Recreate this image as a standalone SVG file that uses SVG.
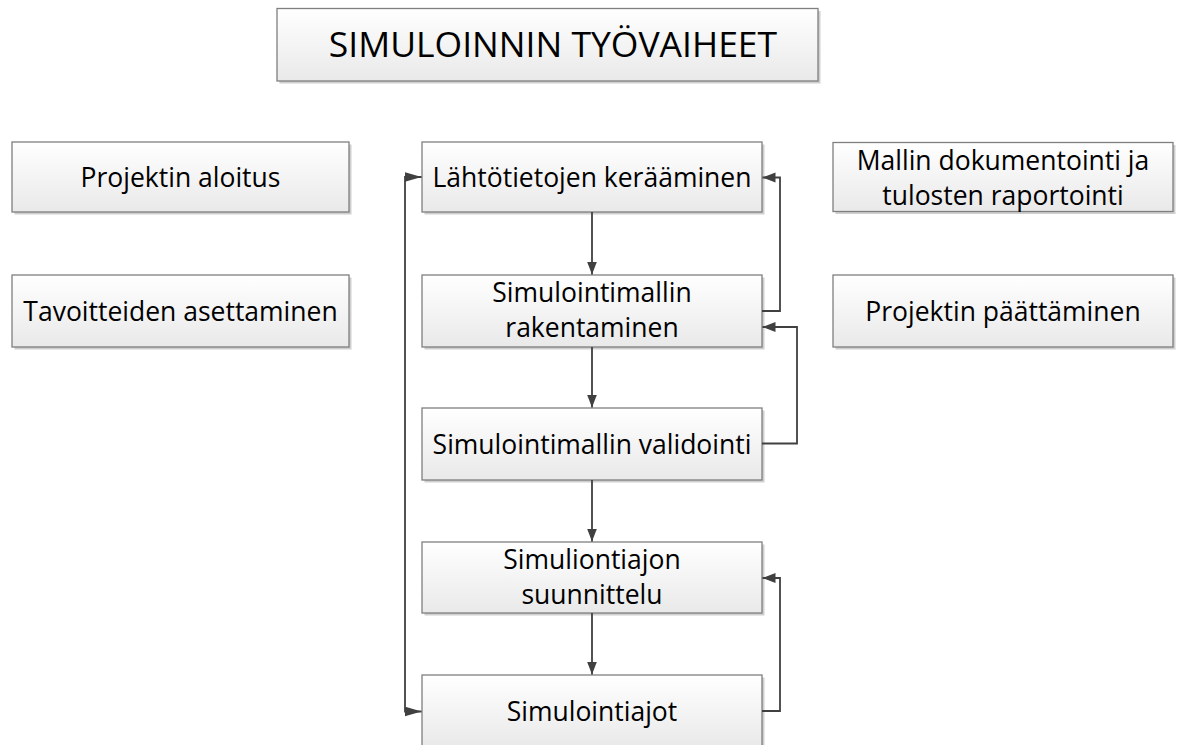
<svg xmlns="http://www.w3.org/2000/svg" width="1180" height="745" viewBox="0 0 1180 745">
<defs>
<linearGradient id="fillGrad" x1="0" y1="0" x2="0" y2="1">
<stop offset="0" stop-color="#ffffff"/>
<stop offset="1" stop-color="#e9e9e9"/>
</linearGradient>
<marker id="arrow" markerUnits="userSpaceOnUse" markerWidth="14" markerHeight="11" refX="13" refY="5" orient="auto">
<path d="M0,0 L13,5 L0,10 z" fill="#404040"/>
</marker>
<marker id="flag" markerUnits="userSpaceOnUse" markerWidth="18" markerHeight="11" refX="17" refY="5" orient="auto-start-reverse">
<path d="M0,0 L17,5 L0,10 z" fill="#404040"/>
</marker>
</defs>
<style>
.shadow{fill:#cfcfcf;}
.box{fill:url(#fillGrad);stroke:#7f7f7f;stroke-width:1.3;}
.lbl{font-family:"Open Sans","Liberation Sans",sans-serif;font-size:26.5px;fill:#000;text-anchor:middle;}
.title{font-family:"Open Sans","Liberation Sans",sans-serif;font-size:35.5px;fill:#000;text-anchor:middle;}
.conn{fill:none;stroke:#404040;stroke-width:1.8;}
</style>
<rect width="1180" height="745" fill="#ffffff"/>

<g id="title">
<rect class="shadow" x="279.5" y="11" width="541" height="72.5"/>
<rect class="box" x="277" y="8.5" width="541" height="72.5"/>
<text class="title" x="553" y="56.5">SIMULOINNIN TYÖVAIHEET</text>
</g>

<g id="projektin-aloitus">
<rect class="shadow" x="14.5" y="144.5" width="337" height="70"/>
<rect class="box" x="12" y="142" width="337" height="70"/>
<text class="lbl" x="180.5" y="186.5">Projektin aloitus</text>
</g>

<g id="tavoitteiden-asettaminen">
<rect class="shadow" x="14.5" y="277.5" width="337" height="72"/>
<rect class="box" x="12" y="275" width="337" height="72"/>
<text class="lbl" x="180.5" y="320.5">Tavoitteiden asettaminen</text>
</g>

<g id="lahtotietojen-keraaminen">
<rect class="shadow" x="424.5" y="144.5" width="340" height="70"/>
<rect class="box" x="422" y="142" width="340" height="70"/>
<text class="lbl" x="592" y="186.5">Lähtötietojen kerääminen</text>
</g>

<g id="simulointimallin-rakentaminen">
<rect class="shadow" x="424.5" y="277.5" width="340" height="72"/>
<rect class="box" x="422" y="275" width="340" height="72"/>
<text class="lbl" x="592" y="302">Simulointimallin</text>
<text class="lbl" x="592" y="337">rakentaminen</text>
</g>

<g id="simulointimallin-validointi">
<rect class="shadow" x="424.5" y="410.5" width="340" height="72"/>
<rect class="box" x="422" y="408" width="340" height="72"/>
<text class="lbl" x="592" y="453.5">Simulointimallin validointi</text>
</g>

<g id="simuliontiajon-suunnittelu">
<rect class="shadow" x="424.5" y="544.5" width="340" height="71"/>
<rect class="box" x="422" y="542" width="340" height="71"/>
<text class="lbl" x="592" y="569">Simuliontiajon</text>
<text class="lbl" x="592" y="604">suunnittelu</text>
</g>

<g id="simulointiajot">
<rect class="shadow" x="424.5" y="677.5" width="340" height="72"/>
<rect class="box" x="422" y="675" width="340" height="72"/>
<text class="lbl" x="592" y="720.5">Simulointiajot</text>
</g>

<g id="mallin-dokumentointi">
<rect class="shadow" x="835.5" y="145" width="340" height="69"/>
<rect class="box" x="833" y="142.5" width="340" height="69"/>
<text class="lbl" x="1003" y="169.5">Mallin dokumentointi ja</text>
<text class="lbl" x="1003" y="204.5">tulosten raportointi</text>
</g>

<g id="projektin-paattaminen">
<rect class="shadow" x="835.5" y="277.5" width="340" height="72"/>
<rect class="box" x="833" y="275" width="340" height="72"/>
<text class="lbl" x="1003" y="320.5">Projektin päättäminen</text>
</g>

<g id="connectors">
<path class="conn" d="M592,212 V274.5" marker-end="url(#arrow)"/>
<path class="conn" d="M592,347 V407.5" marker-end="url(#arrow)"/>
<path class="conn" d="M592,480 V541.5" marker-end="url(#arrow)"/>
<path class="conn" d="M592,613 V674.5" marker-end="url(#arrow)"/>
<path class="conn" d="M762,311 H780 V177.5 H762.5" marker-end="url(#arrow)"/>
<path class="conn" d="M762,443.5 H797 V327 H762.5" marker-end="url(#arrow)"/>
<path class="conn" d="M762,711 H780 V578 H762.5" marker-end="url(#arrow)"/>
<path class="conn" d="M421.5,711.5 H405 V177 H421.5" marker-start="url(#flag)" marker-end="url(#flag)"/>
</g>
</svg>
